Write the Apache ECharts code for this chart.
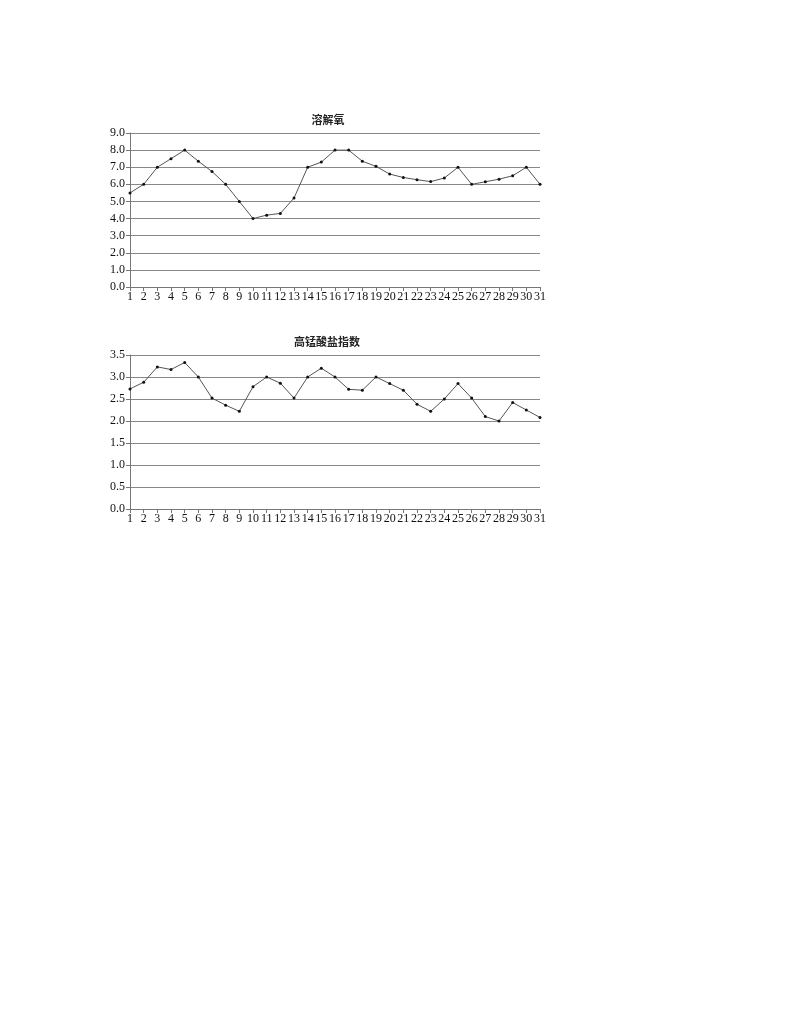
<!DOCTYPE html>
<html><head><meta charset="utf-8">
<script src="https://cdn.jsdelivr.net/npm/echarts@6/dist/echarts.min.js"></script>
<style>html,body{margin:0;padding:0;background:#fff}#c{width:800px;height:1035px}</style>
</head><body><div id="c"></div>
<script>
const days = Array.from({length:31},(_,i)=>String(i+1));
const title1 = '溶解氧';
const title2 = '高锰酸盐指数';
const dissolvedOxygen = [5.5,6.0,7.0,7.5,8.0,7.35,6.75,6.0,5.0,4.0,4.2,4.3,5.2,7.0,7.3,8.0,8.0,7.35,7.05,6.6,6.4,6.27,6.16,6.37,7.0,6.0,6.15,6.3,6.5,7.0,6.0];
const permanganate = [2.73,2.88,3.23,3.17,3.33,3.0,2.52,2.36,2.22,2.78,3.0,2.86,2.52,3.0,3.2,3.0,2.72,2.7,3.0,2.85,2.7,2.38,2.22,2.5,2.85,2.52,2.1,2.0,2.42,2.25,2.08];

const font = 'Liberation Serif';
const chart = echarts.init(document.getElementById('c'));
function xAxis(gi){
  return {type:'category',gridIndex:gi,data:days,boundaryGap:false,
    axisLine:{lineStyle:{color:'#777',width:1}},
    axisTick:{alignWithLabel:true,length:4,lineStyle:{color:'#777'}},
    axisLabel:{color:'#111',fontFamily:font,fontSize:12,margin:4,interval:0},
    splitLine:{show:false}};
}
function yAxis(gi,max,interval){
  return {type:'value',gridIndex:gi,min:0,max:max,interval:interval,
    axisLine:{show:true,lineStyle:{color:'#777',width:1}},
    axisTick:{show:true,length:4,lineStyle:{color:'#777'}},
    axisLabel:{color:'#111',fontFamily:font,fontSize:12,margin:5,formatter:v=>v.toFixed(1)},
    splitLine:{show:true,lineStyle:{color:'#888',width:1}}};
}
function series(gi,data){
  return {type:'line',xAxisIndex:gi,yAxisIndex:gi,data:data,
    symbol:'circle',symbolSize:3,itemStyle:{color:'#111'},
    lineStyle:{color:'#555',width:1},animation:false};
}
chart.setOption({
  backgroundColor:'#fff',
  animation:false,
  title:[
    {text:title1,left:323,top:109,textAlign:'center',textStyle:{fontFamily:'Noto Sans CJK SC',fontSize:11,fontWeight:'bold',color:'#222'}},
    {text:title2,left:322,top:331,textAlign:'center',textStyle:{fontFamily:'Noto Sans CJK SC',fontSize:11,fontWeight:'bold',color:'#222'}}
  ],
  grid:[
    {left:130,top:133,width:410,height:154},
    {left:130,top:355,width:410,height:154}
  ],
  xAxis:[xAxis(0),xAxis(1)],
  yAxis:[yAxis(0,9,1),yAxis(1,3.5,0.5)],
  series:[series(0,dissolvedOxygen),series(1,permanganate)]
});
</script></body></html>
